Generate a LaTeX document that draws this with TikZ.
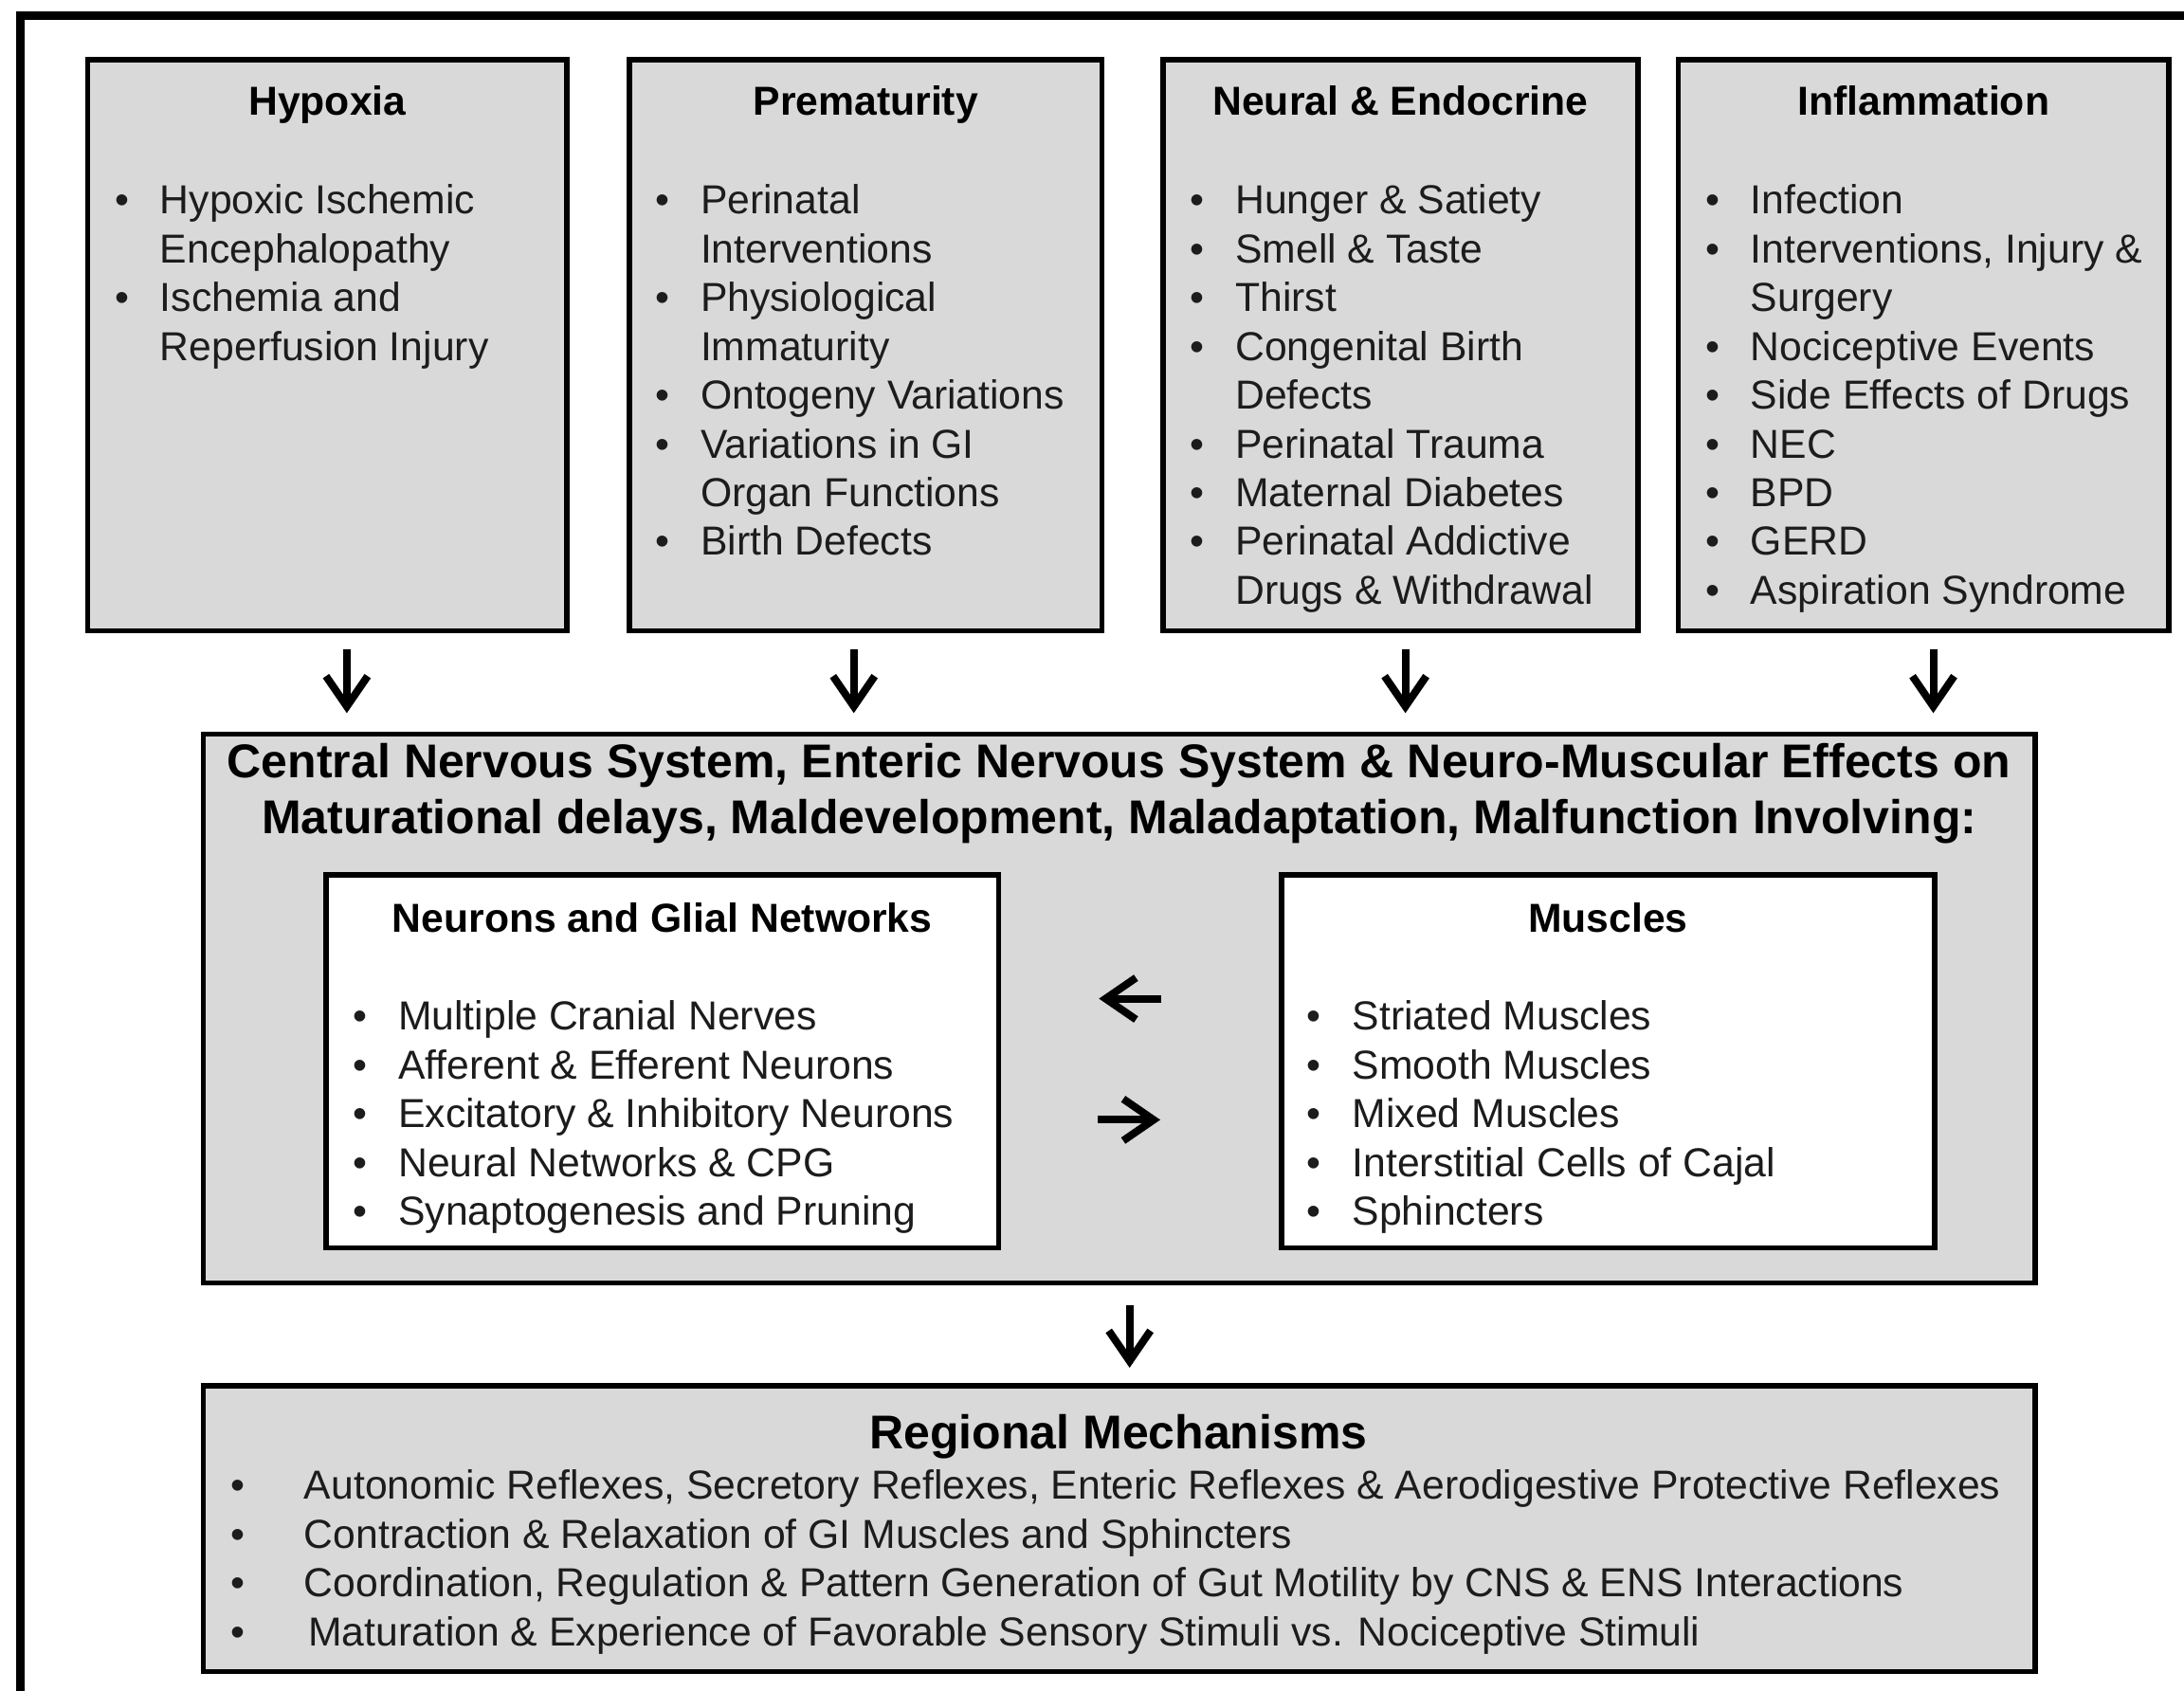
\documentclass[tikz,border=0pt]{standalone}
\usepackage{fontspec}
\setmainfont{Liberation Sans}
\usetikzlibrary{arrows.meta,fit}

\definecolor{boxgray}{RGB}{217,217,217}
\definecolor{ink}{RGB}{28,28,28}
\newcommand{\bodysize}{\fontsize{12.15pt}{14.65pt}\selectfont}
\newcommand{\headsize}{\fontsize{14.23pt}{16.73pt}\selectfont}

\tikzset{
  greybox/.style={draw=black, line width=0.055cm, fill=boxgray, inner sep=0pt},
  whitebox/.style={draw=black, line width=0.055cm, fill=white, inner sep=0pt},
  boxtitle/.style={inner sep=0pt, anchor=base, font=\bodysize\bfseries, text=black},
  bigtitle/.style={inner sep=0pt, anchor=base, font=\headsize\bfseries, text=black},
  listtext/.style={inner sep=0pt, anchor=base west, font=\bodysize, text=ink},
  flow/.style={line width=0.08cm, -{Straight Barb[length=3.2mm,width=4.4mm]}},
}

\begin{document}
\begin{tikzpicture}[x=0.014694cm, y=-0.014694cm]
\useasboundingbox (0,0) rectangle (1568,1214);

% outer frame (top and left edges)
\draw[line width=0.09cm] (14.3,1214) -- (14.3,11) -- (1568,11);

% ---- top row of cause boxes ----
\node[greybox, fit={(63,43) (407,453)}] (hyp) {};
\node[greybox, fit={(452,43) (791,453)}] (prem) {};
\node[greybox, fit={(835,43) (1176,453)}] (neur) {};
\node[greybox, fit={(1205,43) (1557,453)}] (infl) {};

\node[boxtitle] (hypT)  at (235,82.5)    {Hypoxia};
\node[boxtitle] (premT) at (621.5,82.5)  {Prematurity};
\node[boxtitle] (neurT) at (1005.5,82.5) {Neural \& Endocrine};
\node[boxtitle] (inflT) at (1381,82.5)   {Inflammation};

\node[listtext] (hypL) at (81.9,153.5) {\begin{tabular}[t]{@{}p{0.479cm}@{}l@{}}
\textbullet & Hypoxic Ischemic\\
            & Encephalopathy\\
\textbullet & Ischemia and\\
            & Reperfusion Injury
\end{tabular}};

\node[listtext] (premL) at (469.9,153.5) {\begin{tabular}[t]{@{}p{0.479cm}@{}l@{}}
\textbullet & Perinatal\\
            & Interventions\\
\textbullet & Physiological\\
            & Immaturity\\
\textbullet & Ontogeny Variations\\
\textbullet & Variations in GI\\
            & Organ Functions\\
\textbullet & Birth Defects
\end{tabular}};

\node[listtext] (neurL) at (853.9,153.5) {\begin{tabular}[t]{@{}p{0.479cm}@{}l@{}}
\textbullet & Hunger \& Satiety\\
\textbullet & Smell \& Taste\\
\textbullet & Thirst\\
\textbullet & Congenital Birth\\
            & Defects\\
\textbullet & Perinatal Trauma\\
\textbullet & Maternal Diabetes\\
\textbullet & Perinatal Addictive\\
            & Drugs \& Withdrawal
\end{tabular}};

\node[listtext] (inflL) at (1223.9,153.5) {\begin{tabular}[t]{@{}p{0.479cm}@{}l@{}}
\textbullet & Infection\\
\textbullet & Interventions, Injury \&\\
            & Surgery\\
\textbullet & Nociceptive Events\\
\textbullet & Side Effects of Drugs\\
\textbullet & NEC\\
\textbullet & BPD\\
\textbullet & GERD\\
\textbullet & Aspiration Syndrome
\end{tabular}};

% ---- central effects box ----
\node[greybox, fit={(146,527) (1461,921)}] (cns) {};
\node[bigtitle] (cnsT) at (803.5,558.5) {\begin{tabular}[t]{@{}c@{}}
Central Nervous System, Enteric Nervous System \& Neuro-Muscular Effects on\\
Maturational delays, Maldevelopment, Maladaptation, Malfunction Involving:
\end{tabular}};

\node[whitebox, fit={(234,628) (717,896)}] (neuro) {};
\node[whitebox, fit={(920,628) (1389,896)}] (musc) {};

\node[boxtitle] (neuroT) at (475.5,669.5)  {Neurons and Glial Networks};
\node[boxtitle] (muscT)  at (1154.5,669.5) {Muscles};

\node[listtext] (neuroL) at (252.9,739.5) {\begin{tabular}[t]{@{}p{0.479cm}@{}l@{}}
\textbullet & Multiple Cranial Nerves\\
\textbullet & Afferent \& Efferent Neurons\\
\textbullet & Excitatory \& Inhibitory Neurons\\
\textbullet & Neural Networks \& CPG\\
\textbullet & Synaptogenesis and Pruning
\end{tabular}};

\node[listtext] (muscL) at (937.9,739.5) {\begin{tabular}[t]{@{}p{0.479cm}@{}l@{}}
\textbullet & Striated Muscles\\
\textbullet & Smooth Muscles\\
\textbullet & Mixed Muscles\\
\textbullet & Interstitial Cells of Cajal\\
\textbullet & Sphincters
\end{tabular}};

% ---- regional mechanisms box ----
\node[greybox, fit={(146,995) (1461,1200)}] (reg) {};
\node[bigtitle] (regT) at (803,1040) {Regional Mechanisms};
\node[listtext] (regL) at (164.9,1076.5) {\begin{tabular}[t]{@{}p{0.780cm}@{}l@{}}
\textbullet & Autonomic Reflexes, Secretory Reflexes, Enteric Reflexes \& Aerodigestive Protective Reflexes\\
\textbullet & Contraction \& Relaxation of GI Muscles and Sphincters\\
\textbullet & Coordination, Regulation \& Pattern Generation of Gut Motility by CNS \& ENS Interactions\\
\textbullet & \hspace{0.044cm}Maturation \& Experience of Favorable Sensory Stimuli vs. Nociceptive Stimuli
\end{tabular}};

% ---- arrows ----
\coordinate (a1s) at (249,466);  \coordinate (a1e) at (249,512);
\coordinate (a2s) at (613,466);  \coordinate (a2e) at (613,512);
\coordinate (a3s) at (1009,466); \coordinate (a3e) at (1009,512);
\coordinate (a4s) at (1388,466); \coordinate (a4e) at (1388,512);
\coordinate (a5s) at (811,937);  \coordinate (a5e) at (811,982);
\coordinate (lts) at (834,717);  \coordinate (lte) at (789,717);
\coordinate (rts) at (788,804);  \coordinate (rte) at (833,804);

\draw[flow] (a1s) -- (a1e);
\draw[flow] (a2s) -- (a2e);
\draw[flow] (a3s) -- (a3e);
\draw[flow] (a4s) -- (a4e);
\draw[flow] (a5s) -- (a5e);
\draw[flow] (lts) -- (lte);
\draw[flow] (rts) -- (rte);
\end{tikzpicture}
\end{document}
